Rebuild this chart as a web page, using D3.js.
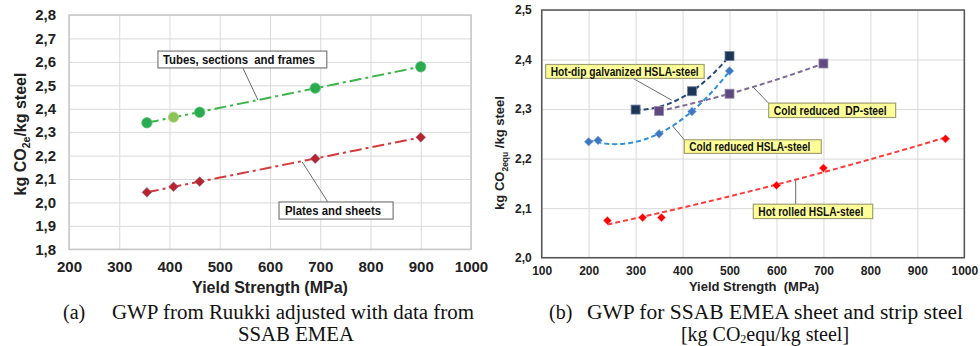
<!DOCTYPE html>
<html>
<head>
<meta charset="utf-8">
<script src="https://cdn.jsdelivr.net/npm/d3@7"></script>
<style>
  html, body { margin: 0; padding: 0; background: #fff; }
  svg { display: block; font-family: Arial, "Liberation Sans", sans-serif; }
  text { white-space: pre; }
</style>
</head>
<body>
<svg id="chart" width="980" height="346"></svg>
<script>
// ---- chart (a): Ruukki / SSAB EMEA
const tubesX = [355, 408, 460, 690, 900];
const tubesY = [2.340, 2.364, 2.385, 2.488, 2.579];
const platesX = [355, 408, 460, 690, 900];
const platesY = [2.043, 2.067, 2.089, 2.187, 2.278];
const leftXTicks = [200, 300, 400, 500, 600, 700, 800, 900, 1000];
const leftYTicks = [1.8, 1.9, 2.0, 2.1, 2.2, 2.3, 2.4, 2.5, 2.6, 2.7, 2.8];

// ---- chart (b): SSAB EMEA sheet and strip steel
const hotDipX = [300, 420, 500];
const hotDipY = [2.299, 2.336, 2.407];
const coldHslaX = [200, 220, 350, 420, 500];
const coldHslaY = [2.234, 2.237, 2.250, 2.295, 2.377];
const dpX = [350, 500, 700];
const dpY = [2.296, 2.331, 2.392];
const hotRolledX = [240, 315, 355, 600, 700, 960];
const hotRolledY = [2.075, 2.081, 2.081, 2.146, 2.181, 2.240];
const rightXTicks = [100, 200, 300, 400, 500, 600, 700, 800, 900, 1000];
const rightYTicks = [2.0, 2.1, 2.2, 2.3, 2.4, 2.5];

const svg = d3.select('#chart');
const comma = d => d3.format('.1f')(d).replace('.', ',');
const zip = (xs, ys) => xs.map((x, i) => [x, ys[i]]);

// least squares polynomial fit (trendlines)
function polyfit(xs, ys, deg) {
  const n = deg + 1;
  const A = Array.from({ length: n }, () => new Array(n + 1).fill(0));
  xs.forEach((x, k) => {
    for (let i = 0; i < n; i++) {
      for (let j = 0; j < n; j++) A[i][j] += Math.pow(x, i + j);
      A[i][n] += ys[k] * Math.pow(x, i);
    }
  });
  for (let i = 0; i < n; i++) {
    let p = i;
    for (let r = i + 1; r < n; r++) if (Math.abs(A[r][i]) > Math.abs(A[p][i])) p = r;
    [A[i], A[p]] = [A[p], A[i]];
    for (let r = 0; r < n; r++) {
      if (r === i) continue;
      const f = A[r][i] / A[i][i];
      for (let c = i; c <= n; c++) A[r][c] -= f * A[i][c];
    }
  }
  const coef = A.map((row, i) => row[n] / row[i]);
  return x => coef.reduce((s, c, i) => s + c * Math.pow(x, i), 0);
}

function trend(xs, ys, deg) {
  const f = polyfit(xs, ys, deg);
  const [x0, x1] = d3.extent(xs);
  return d3.range(0, 61).map(i => { const x = x0 + (x1 - x0) * i / 60; return [x, f(x)]; });
}

function drawAxes(g, x, y, xt, yt, opt) {
  const [x0, x1] = x.range();
  const [y1, y0] = y.range();
  g.append('g')
    .attr('transform', `translate(${x0},0)`)
    .call(d3.axisLeft(y).tickValues(yt).tickSize(-(x1 - x0)).tickPadding(opt.yPad).tickFormat(comma))
    .call(a => a.select('.domain').remove())
    .call(a => a.selectAll('line').attr('stroke', opt.grid))
    .call(a => a.selectAll('text').attr('font-size', opt.fs).attr('font-weight', 'bold').attr('fill', opt.text));
  g.append('g')
    .attr('transform', `translate(0,${y1})`)
    .call(d3.axisBottom(x).tickValues(xt).tickSize(-(y1 - y0)).tickPadding(opt.xPad).tickFormat(d3.format('d')))
    .call(a => a.select('.domain').remove())
    .call(a => a.selectAll('line').attr('stroke', opt.grid))
    .call(a => a.selectAll('text').attr('font-size', opt.fs).attr('font-weight', 'bold').attr('fill', opt.text));
  g.append('rect')
    .attr('x', x0).attr('y', y0).attr('width', x1 - x0).attr('height', y1 - y0)
    .attr('fill', 'none').attr('stroke', opt.border).attr('stroke-width', opt.borderW);
}

function callout(g, x, y, a) {
  g.append('line')
    .attr('x1', x(a.from[0])).attr('y1', y(a.from[1]))
    .attr('x2', x(a.to[0])).attr('y2', y(a.to[1]))
    .attr('stroke', '#6b6b6b').attr('stroke-width', 1);
  const bx = x(a.box[0]), by = y(a.box[1]);
  const bw = x(a.box[2]) - bx, bh = y(a.box[3]) - by;
  g.append('rect')
    .attr('x', bx).attr('y', by).attr('width', bw).attr('height', bh)
    .attr('fill', a.fill).attr('stroke', a.stroke).attr('stroke-width', 1.2);
  g.append('text')
    .attr('x', bx + a.pad).attr('y', by + bh / 2).attr('dy', '0.36em')
    .attr('font-size', a.fs).attr('font-weight', 'bold').attr('fill', '#111')
    .attr('textLength', a.tl).attr('lengthAdjust', 'spacingAndGlyphs')
    .text(a.label);
}

// ================= chart (a)
const xa = d3.scaleLinear().domain([200, 1000]).range([69, 471]);
const ya = d3.scaleLinear().domain([1.8, 2.8]).range([249.3, 15]);
const ga = svg.append('g');
drawAxes(ga, xa, ya, leftXTicks, leftYTicks,
  { yPad: 13, xPad: 12, fs: 15, grid: '#d9d9d9', text: '#222', border: '#c8c8c8', borderW: 1.5 });

const lineA = d3.line().x(d => xa(d[0])).y(d => ya(d[1]));
ga.append('path').datum(trend(tubesX, tubesY, 1)).attr('d', lineA)
  .attr('fill', 'none').attr('stroke', '#3cb54a').attr('stroke-width', 2)
  .attr('stroke-dasharray', '12,4,3,4');
ga.append('path').datum(trend(platesX, platesY, 1)).attr('d', lineA)
  .attr('fill', 'none').attr('stroke', '#d23c3c').attr('stroke-width', 2)
  .attr('stroke-dasharray', '12,4,3,4');

ga.selectAll('.tube').data(zip(tubesX, tubesY)).enter().append('circle')
  .attr('cx', d => xa(d[0])).attr('cy', d => ya(d[1])).attr('r', 5.2)
  .attr('fill', (d, i) => i === 1 ? '#8fc35a' : '#2aaa4e')
  .attr('stroke', (d, i) => i === 1 ? '#b3d98a' : '#5cc47a').attr('stroke-width', 0.8);
ga.selectAll('.plate').data(zip(platesX, platesY)).enter().append('path')
  .attr('transform', d => `translate(${xa(d[0])},${ya(d[1])})`)
  .attr('d', d3.symbol(d3.symbolDiamond2, 60))
  .attr('fill', '#b8242e').attr('stroke', '#8a6a8a').attr('stroke-width', 0.6);

callout(ga, xa, ya, { label: 'Tubes, sections  and frames', box: [377, 2.646, 713, 2.574],
  from: [546, 2.574], to: [576, 2.437], fill: '#fff', stroke: '#7a7a7a', fs: 12, pad: 5, tl: 152 });
callout(ga, xa, ya, { label: 'Plates and sheets', box: [618, 2.002, 845, 1.929],
  from: [715, 2.002], to: [664, 2.173], fill: '#fff', stroke: '#7a7a7a', fs: 12, pad: 6, tl: 96 });

ga.append('text').attr('x', 270).attr('y', 293).attr('text-anchor', 'middle')
  .attr('font-size', 16).attr('font-weight', 'bold').attr('fill', '#222')
  .text('Yield Strength (MPa)');
const yta = ga.append('text').attr('transform', 'translate(26,134) rotate(-90)')
  .attr('text-anchor', 'middle').attr('font-size', 16).attr('font-weight', 'bold').attr('fill', '#222');
yta.append('tspan').text('kg CO');
yta.append('tspan').attr('font-size', 10.5).attr('dy', 4).text('2e');
yta.append('tspan').attr('dy', -4).text('/kg steel');

// ================= chart (b)
const xb = d3.scaleLinear().domain([100, 1000]).range([541.7, 964.3]);
const yb = d3.scaleLinear().domain([2.0, 2.5]).range([257.7, 10]);
const gb = svg.append('g');
drawAxes(gb, xb, yb, rightXTicks, rightYTicks,
  { yPad: 10, xPad: 9, fs: 12, grid: '#d9d9d9', text: '#222', border: '#555', borderW: 1.5 });

const lineB = d3.line().x(d => xb(d[0])).y(d => yb(d[1]));
const seriesB = [
  { xs: dpX, ys: dpY, color: '#7d6b95', deg: 2 },
  { xs: hotDipX, ys: hotDipY, color: '#2c4a78', deg: 2 },
  { xs: coldHslaX, ys: coldHslaY, color: '#2f8fd8', deg: 2 },
  { xs: hotRolledX, ys: hotRolledY, color: '#ff3b3b', deg: 2 }
];
seriesB.forEach(s => {
  gb.append('path').datum(trend(s.xs, s.ys, s.deg)).attr('d', lineB)
    .attr('fill', 'none').attr('stroke', s.color).attr('stroke-width', 2)
    .attr('stroke-dasharray', '5,3');
});

const sq = (data, fill, stroke) => gb.append('g').selectAll('rect').data(data).enter().append('rect')
  .attr('x', d => xb(d[0]) - 4.5).attr('y', d => yb(d[1]) - 4.5).attr('width', 9).attr('height', 9)
  .attr('fill', fill).attr('stroke', stroke).attr('stroke-width', 0.8);
const dia = (data, fill, stroke, size) => gb.append('g').selectAll('path').data(data).enter().append('path')
  .attr('transform', d => `translate(${xb(d[0])},${yb(d[1])})`)
  .attr('d', d3.symbol(d3.symbolDiamond2, size))
  .attr('fill', fill).attr('stroke', stroke).attr('stroke-width', 0.6);

sq(zip(dpX, dpY), '#5e4a7e', '#9a8db0');
sq(zip(hotDipX, hotDipY), '#1d3557', '#6b7fa0');
dia(zip(coldHslaX, coldHslaY), '#3d78bf', '#8fb3e0', 48);
dia(zip(hotRolledX, hotRolledY), '#ff0000', '#ff8080', 44);

const yellow = { fill: '#ffff99', stroke: '#a0a070', fs: 13, pad: 5 };
callout(gb, xb, yb, Object.assign({ label: 'Hot-dip galvanized HSLA-steel', box: [108.5, 2.390, 446, 2.362],
  from: [294.4, 2.362], to: [376.8, 2.318], tl: 148 }, yellow));
callout(gb, xb, yb, Object.assign({ label: 'Cold reduced  DP-steel', box: [583.4, 2.312, 853.8, 2.283],
  from: [582.5, 2.3127], to: [550.6, 2.344], tl: 113 }, yellow));
callout(gb, xb, yb, Object.assign({ label: 'Cold reduced HSLA-steel', box: [403.7, 2.238, 695.4, 2.2105],
  from: [403.7, 2.238], to: [379, 2.2657], tl: 121 }, yellow));
callout(gb, xb, yb, Object.assign({ label: 'Hot rolled HSLA-steel', box: [550.6, 2.108, 804.9, 2.079],
  from: [640.9, 2.108], to: [640.9, 2.1566], tl: 105 }, yellow));

gb.append('text').attr('x', 754).attr('y', 291).attr('text-anchor', 'middle')
  .attr('font-size', 13).attr('font-weight', 'bold').attr('fill', '#222')
  .text('Yield Strength  (MPa)');
const ytb = gb.append('text').attr('transform', 'translate(504,153) rotate(-90)')
  .attr('text-anchor', 'middle').attr('font-size', 13).attr('font-weight', 'bold').attr('fill', '#222');
ytb.append('tspan').text('kg CO');
ytb.append('tspan').attr('font-size', 8.5).attr('dy', 3.5).text('2equ');
ytb.append('tspan').attr('dy', -3.5).text(' /kg steel');

// ================= captions
const cap = svg.append('g').attr('font-family', '"Liberation Serif", "Times New Roman", serif')
  .attr('font-size', 20).attr('fill', '#111');
cap.append('text').attr('x', 63).attr('y', 318.5).text('(a)');
cap.append('text').attr('x', 112).attr('y', 318.5).attr('textLength', 362).attr('lengthAdjust', 'spacingAndGlyphs')
  .text('GWP from Ruukki adjusted with data from');
cap.append('text').attr('x', 296).attr('y', 341).attr('text-anchor', 'middle')
  .attr('textLength', 116).attr('lengthAdjust', 'spacingAndGlyphs').text('SSAB EMEA');
cap.append('text').attr('x', 549).attr('y', 318.5).text('(b)');
cap.append('text').attr('x', 587).attr('y', 318.5).attr('textLength', 376).attr('lengthAdjust', 'spacingAndGlyphs')
  .text('GWP for SSAB EMEA sheet and strip steel');
const c2 = cap.append('text').attr('x', 765).attr('y', 341).attr('text-anchor', 'middle');
c2.append('tspan').text('[kg CO');
c2.append('tspan').attr('font-size', 12).attr('dy', 2).text('2');
c2.append('tspan').attr('dy', -2).text('equ/kg steel]');
</script>
</body>
</html>
